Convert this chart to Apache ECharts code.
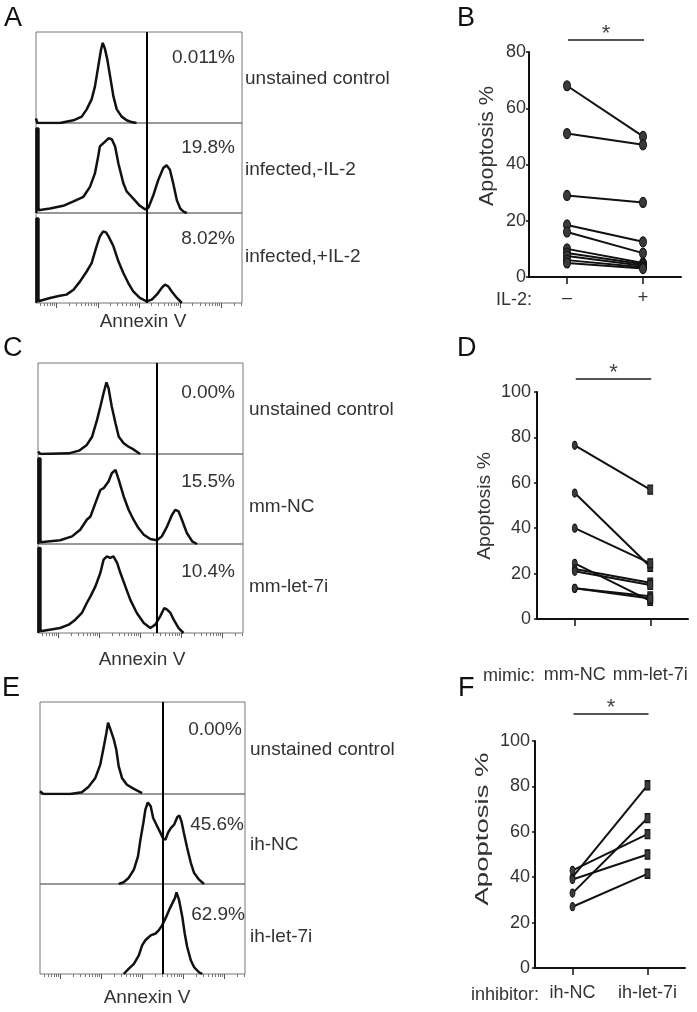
<!DOCTYPE html>
<html><head><meta charset="utf-8">
<script src="https://cdn.jsdelivr.net/npm/echarts@6/dist/echarts.min.js"></script>
<style>html,body{margin:0;padding:0;background:#fff}#c{width:697px;height:1012px}</style>
</head><body><div id="c"></div>
<script>
// ================= DATA =================
// Histogram curves: [position in decades across the plot (0-5), relative count (0-1)]
const histA1 = [[0,0.05],[0.03,0],[0.58,0],[0.91,0.03],[1.11,0.07],[1.23,0.15],[1.35,0.26],[1.43,0.40],[1.51,0.62],[1.58,0.81],[1.62,0.88],[1.67,0.82],[1.73,0.70],[1.80,0.51],[1.88,0.29],[1.96,0.15],[2.08,0.07],[2.20,0.03],[2.32,0.01],[2.44,0]];
const histA2 = [[0.01,0],[0.01,0.94],[0.06,0.94],[0.06,0.03],[0.34,0.05],[0.66,0.08],[0.91,0.13],[1.15,0.18],[1.31,0.29],[1.43,0.44],[1.51,0.63],[1.55,0.74],[1.59,0.755],[1.67,0.79],[1.76,0.83],[1.84,0.82],[1.92,0.74],[2.0,0.55],[2.12,0.33],[2.20,0.24],[2.28,0.20],[2.40,0.14],[2.52,0.08],[2.65,0.04],[2.73,0.06],[2.85,0.20],[2.97,0.37],[3.09,0.50],[3.17,0.53],[3.25,0.48],[3.33,0.33],[3.42,0.14],[3.50,0.05],[3.58,0.015],[3.66,0]];
const histA3 = [[0.01,0],[0.01,0.94],[0.06,0.94],[0.06,0.02],[0.10,0.02],[0.34,0.056],[0.58,0.081],[0.74,0.093],[0.91,0.148],[1.07,0.24],[1.23,0.35],[1.35,0.444],[1.47,0.63],[1.55,0.74],[1.63,0.796],[1.70,0.785],[1.76,0.74],[1.88,0.63],[2.0,0.463],[2.12,0.333],[2.24,0.222],[2.36,0.13],[2.52,0.056],[2.69,0.019],[2.81,0.037],[2.93,0.093],[3.05,0.167],[3.13,0.204],[3.21,0.185],[3.29,0.13],[3.42,0.056],[3.54,0]];
const histC1 = [[0,0.026],[0.06,0],[0.75,0.007],[1.0,0.037],[1.19,0.10],[1.32,0.19],[1.44,0.375],[1.52,0.52],[1.60,0.67],[1.67,0.787],[1.72,0.724],[1.80,0.52],[1.89,0.338],[1.97,0.19],[2.09,0.118],[2.21,0.08],[2.33,0.05],[2.49,0]];
const histC2 = [[0.01,0],[0.01,0.95],[0.06,0.95],[0.06,0.02],[0.10,0.011],[0.54,0.041],[0.83,0.085],[1.03,0.159],[1.19,0.27],[1.28,0.306],[1.40,0.454],[1.52,0.60],[1.60,0.62],[1.64,0.638],[1.72,0.694],[1.80,0.786],[1.89,0.823],[1.97,0.712],[2.09,0.528],[2.21,0.38],[2.33,0.27],[2.45,0.177],[2.58,0.103],[2.74,0.055],[2.90,0.041],[3.02,0.085],[3.15,0.196],[3.27,0.325],[3.35,0.38],[3.43,0.362],[3.51,0.27],[3.63,0.122],[3.76,0.03],[3.88,0]];
const histC3 = [[0.01,0],[0.01,0.955],[0.06,0.955],[0.06,0.02],[0.10,0.019],[0.54,0.056],[0.75,0.094],[0.91,0.15],[1.07,0.225],[1.19,0.337],[1.28,0.412],[1.40,0.524],[1.52,0.674],[1.60,0.824],[1.68,0.861],[1.76,0.843],[1.84,0.861],[1.93,0.787],[2.01,0.674],[2.13,0.524],[2.25,0.375],[2.41,0.225],[2.58,0.112],[2.74,0.056],[2.86,0.094],[2.98,0.187],[3.08,0.281],[3.15,0.262],[3.23,0.225],[3.31,0.15],[3.43,0.056],[3.55,0]];
const histE1 = [[0,0.03],[0.04,0.01],[0.08,0],[0.74,0],[1.02,0.018],[1.18,0.076],[1.35,0.175],[1.47,0.32],[1.55,0.50],[1.62,0.665],[1.66,0.775],[1.72,0.70],[1.80,0.593],[1.86,0.484],[1.92,0.30],[2.00,0.175],[2.12,0.10],[2.29,0.055],[2.49,0.01]];
const histE2 = [[1.92,0],[2.04,0.019],[2.16,0.067],[2.29,0.16],[2.39,0.307],[2.45,0.493],[2.52,0.678],[2.57,0.826],[2.63,0.907],[2.70,0.863],[2.76,0.733],[2.84,0.659],[2.92,0.585],[3.01,0.50],[3.06,0.493],[3.12,0.567],[3.19,0.622],[3.27,0.659],[3.35,0.744],[3.40,0.76],[3.45,0.696],[3.51,0.567],[3.59,0.40],[3.68,0.233],[3.76,0.122],[3.88,0.048],[4.00,0]];
const histE3 = [[2.04,0],[2.16,0.056],[2.29,0.112],[2.41,0.206],[2.49,0.318],[2.57,0.375],[2.70,0.43],[2.82,0.45],[2.90,0.487],[2.98,0.543],[3.06,0.618],[3.15,0.712],[3.23,0.787],[3.29,0.843],[3.33,0.906],[3.39,0.824],[3.47,0.637],[3.53,0.45],[3.59,0.30],[3.68,0.15],[3.76,0.075],[3.88,0.019],[3.96,0]];

// gate positions (decades)
const gateA = 2.69, gateC = 2.90, gateE = 3.0;
// histogram texts
const pctA = ['0.011%', '19.8%', '8.02%'];
const namesA = ['unstained control', 'infected,-IL-2', 'infected,+IL-2'];
const pctC = ['0.00%', '15.5%', '10.4%'];
const namesC = ['unstained control', 'mm-NC', 'mm-let-7i'];
const pctE = ['0.00%', '45.6%', '62.9%'];
const namesE = ['unstained control', 'ih-NC', 'ih-let-7i'];
const histAxisTitle = 'Annexin V';

// paired plots
const ilCats = ['–', '+'];
const bMinus = [68, 51, 29, 18.5, 16, 10, 8.5, 7.5, 6, 5];
const bPlus  = [50, 47, 26.5, 12.5, 8.5, 5, 4.5, 4, 3.5, 3];
const mimicCats = ['mm-NC', 'mm-let-7i'];
const dNC  = [76.5, 55.5, 40, 24.5, 22, 21, 13.5, 13.5];
const dLet = [57, 23, 24.5, 8, 16, 15, 10, 9];
const inhCats = ['ih-NC', 'ih-let-7i'];
const fNC  = [40, 33, 43, 39, 27];
const fLet = [80.5, 66, 59, 50, 41.5];
const yTitle = 'Apoptosis %';
const groupTitles = ['IL-2:', 'mimic:', 'inhibitor:'];
const panelLetters = ['A', 'B', 'C', 'D', 'E', 'F'];

// log-decade tick positions (majors at half-decade offset)
const majorTicks = [0.5, 1.5, 2.5, 3.5, 4.5];
const minorTicks = [];
[-0.5, 0.5, 1.5, 2.5, 3.5, 4.5].forEach(M => { for (let m = 2; m <= 9; m++) { const v = M + Math.log10(m); if (v > 0 && v < 5) minorTicks.push(+v.toFixed(4)); } });

// ================= LAYOUT / STYLE =================
const FONT = '"Liberation Sans", Arial, sans-serif';
const TXT = '#333';
const histPanels = [
  { rows: [histA1, histA2, histA3], gate: gateA, pct: pctA, names: namesA, left: 36, width: 206, tops: [32, 123, 213], bottom: 303,
    pctPad: [7, 7, 7], pctOff: [26, 25, 26], nameDx: 3, nameOff: [47, 47, 44], titleX: 143, titleY: 322 },
  { rows: [histC1, histC2, histC3], gate: gateC, pct: pctC, names: namesC, left: 38, width: 205, tops: [363, 454, 544], bottom: 633,
    pctPad: [8, 8, 8], pctOff: [30, 28, 28], nameDx: 6, nameOff: [47, 53, 43], titleX: 142, titleY: 660 },
  { rows: [histE1, histE2, histE3], gate: gateE, pct: pctE, names: namesE, left: 40, width: 205, tops: [702, 794, 884], bottom: 974,
    pctPad: [3, 1, 0], pctOff: [28, 31, 31], nameDx: 5, nameOff: [48, 51, 53], titleX: 147, titleY: 998 }
];
const pairedPanels = [
  { cats: ilCats, a: bMinus, b: bPlus, max: 80, left: 529, top: 52, width: 152, height: 225,
    symA: 'circle', sizeA: [7, 10], symB: 'circle', sizeB: [7, 10], catMargin: 12, yLabelMargin: 3,
    titleX: 487, titleY: 146, titleSize: 20, titleSx: 1.08, group: groupTitles[0], groupX: 532, groupY: 300, sigOff: 12 },
  { cats: mimicCats, a: dNC, b: dLet, max: 100, left: 537, top: 392, width: 151, height: 227,
    symA: 'circle', sizeA: [5, 8], symB: 'rect', sizeB: [5, 9], catMargin: 47, yLabelMargin: 6,
    titleX: 485, titleY: 506, titleSize: 19, titleSx: 1.02, group: groupTitles[1], groupX: 535, groupY: 676, sigOff: 13 },
  { cats: inhCats, a: fNC, b: fLet, max: 100, left: 535, top: 741, width: 150, height: 227,
    symA: 'circle', sizeA: [5, 8], symB: 'rect', sizeB: [5, 9], catMargin: 16, yLabelMargin: 5,
    titleX: 483, titleY: 829, titleSize: 19, titleSx: 1.45, group: groupTitles[2], groupX: 539, groupY: 995, sigOff: 27 }
];
const letterPos = [[4, 19], [457, 19], [3, 349], [457, 349], [2, 689], [458, 689]];

// ================= BUILD =================
const grids = [], xAxes = [], yAxes = [], series = [];

histPanels.forEach(p => {
  p.rows.forEach((row, r) => {
    const top = p.tops[r];
    const h = (r < 2 ? p.tops[r + 1] : p.bottom) - top;
    grids.push({ left: p.left, top: top, width: p.width, height: h, show: true, borderColor: '#777', borderWidth: 1, backgroundColor: 'transparent' });
    const gi = grids.length - 1;
    const isBottom = r === 2;
    xAxes.push({ gridIndex: gi, type: 'value', min: 0, max: 5, show: isBottom, position: 'bottom',
      axisLine: { show: false }, axisLabel: { show: false }, splitLine: { show: false },
      axisTick: { show: isBottom, customValues: majorTicks, length: 5, lineStyle: { color: '#555', width: 1 } } });
    const xi = xAxes.length - 1;
    if (isBottom) {
      xAxes.push({ gridIndex: gi, type: 'value', min: 0, max: 5, show: true, position: 'bottom',
        axisLine: { show: false }, axisLabel: { show: false }, splitLine: { show: false },
        axisTick: { show: true, customValues: minorTicks, length: 3, lineStyle: { color: '#777', width: 1 } } });
    }
    yAxes.push({ gridIndex: gi, type: 'value', min: 0, max: 1, show: false });
    const yi = yAxes.length - 1;
    series.push({ type: 'line', xAxisIndex: xi, yAxisIndex: yi, data: row, symbol: 'none', showSymbol: false,
      lineStyle: { color: '#111', width: 2.5 }, animation: false, silent: true,
      markLine: { silent: true, symbol: 'none', animation: false, label: { show: false },
        lineStyle: { color: '#000', width: 2, type: 'solid' }, data: [{ xAxis: p.gate }] } });
  });
});

const pairedAxisIdx = [];
pairedPanels.forEach(p => {
  grids.push({ left: p.left, top: p.top, width: p.width, height: p.height });
  const gi = grids.length - 1;
  xAxes.push({ gridIndex: gi, type: 'category', data: p.cats, boundaryGap: true,
    axisLine: { show: true, lineStyle: { color: '#111', width: 2 } },
    axisTick: { show: true, alignWithLabel: true, length: 7, lineStyle: { color: '#111', width: 1.5 } },
    axisLabel: { interval: 0, hideOverlap: false, margin: p.catMargin, fontSize: 18, color: TXT, fontFamily: FONT },
    splitLine: { show: false } });
  const xi = xAxes.length - 1;
  yAxes.push({ gridIndex: gi, type: 'value', min: 0, max: p.max, interval: 20,
    axisLine: { show: true, lineStyle: { color: '#111', width: 2 } },
    axisTick: { show: true, length: 3, lineStyle: { color: '#111', width: 1.5 } },
    axisLabel: { margin: p.yLabelMargin, fontSize: 18, color: TXT, fontFamily: FONT },
    splitLine: { show: false } });
  const yi = yAxes.length - 1;
  pairedAxisIdx.push([xi, yi]);
  p.a.forEach((v, i) => {
    series.push({ type: 'line', xAxisIndex: xi, yAxisIndex: yi, animation: false, silent: true,
      data: [{ value: v, symbol: p.symA, symbolSize: p.sizeA }, { value: p.b[i], symbol: p.symB, symbolSize: p.sizeB }],
      showSymbol: true, showAllSymbol: true, symbol: p.symA,
      lineStyle: { color: '#111', width: 2 },
      itemStyle: { color: '#3a3a3a', borderColor: '#111', borderWidth: 1 } });
  });
});

const chart = echarts.init(document.getElementById('c'), null, { renderer: 'canvas' });
chart.setOption({ animation: false, backgroundColor: '#fff', grid: grids, xAxis: xAxes, yAxis: yAxes, series: series });

// ================= TEXT / ANNOTATIONS =================
function T(text, x, y, o) {
  o = o || {};
  const align = o.align || 'left';
  return { type: 'text', x: x, y: y, rotation: o.rot || 0, scaleX: o.sx || 1, silent: true, z: 100,
    style: { text: text, fill: o.color || TXT, font: (o.size || 19) + 'px ' + FONT,
      textAlign: align, align: align, textVerticalAlign: 'middle', verticalAlign: 'middle' } };
}
const els = [];
panelLetters.forEach((L, i) => els.push(T(L, letterPos[i][0], letterPos[i][1], { size: 27, color: '#111' })));
histPanels.forEach(p => {
  const right = p.left + p.width;
  p.rows.forEach((row, r) => {
    els.push(T(p.pct[r], right - p.pctPad[r], p.tops[r] + p.pctOff[r], { align: 'right' }));
    els.push(T(p.names[r], right + p.nameDx, p.tops[r] + p.nameOff[r]));
  });
  els.push(T(histAxisTitle, p.titleX, p.titleY, { align: 'center' }));
});
pairedPanels.forEach((p, k) => {
  const [xi, yi] = pairedAxisIdx[k];
  els.push(T(yTitle, p.titleX, p.titleY, { align: 'center', rot: Math.PI / 2, sx: p.titleSx, size: p.titleSize }));
  els.push(T(p.group, p.groupX, p.groupY, { align: 'right', size: 18 }));
  const x0 = chart.convertToPixel({ xAxisIndex: xi }, p.cats[0]);
  const x1 = chart.convertToPixel({ xAxisIndex: xi }, p.cats[1]);
  const yTop = chart.convertToPixel({ yAxisIndex: yi }, p.max);
  const ys = yTop - p.sigOff;
  els.push({ type: 'line', silent: true, z: 100, shape: { x1: x0 + 1, y1: ys, x2: x1 + 1, y2: ys }, style: { stroke: '#555', lineWidth: 2 } });
  els.push(T('*', (x0 + x1) / 2 + 1, ys - 6, { align: 'center', size: 22, color: '#444' }));
});
chart.setOption({ graphic: { elements: els } });
</script></body></html>
